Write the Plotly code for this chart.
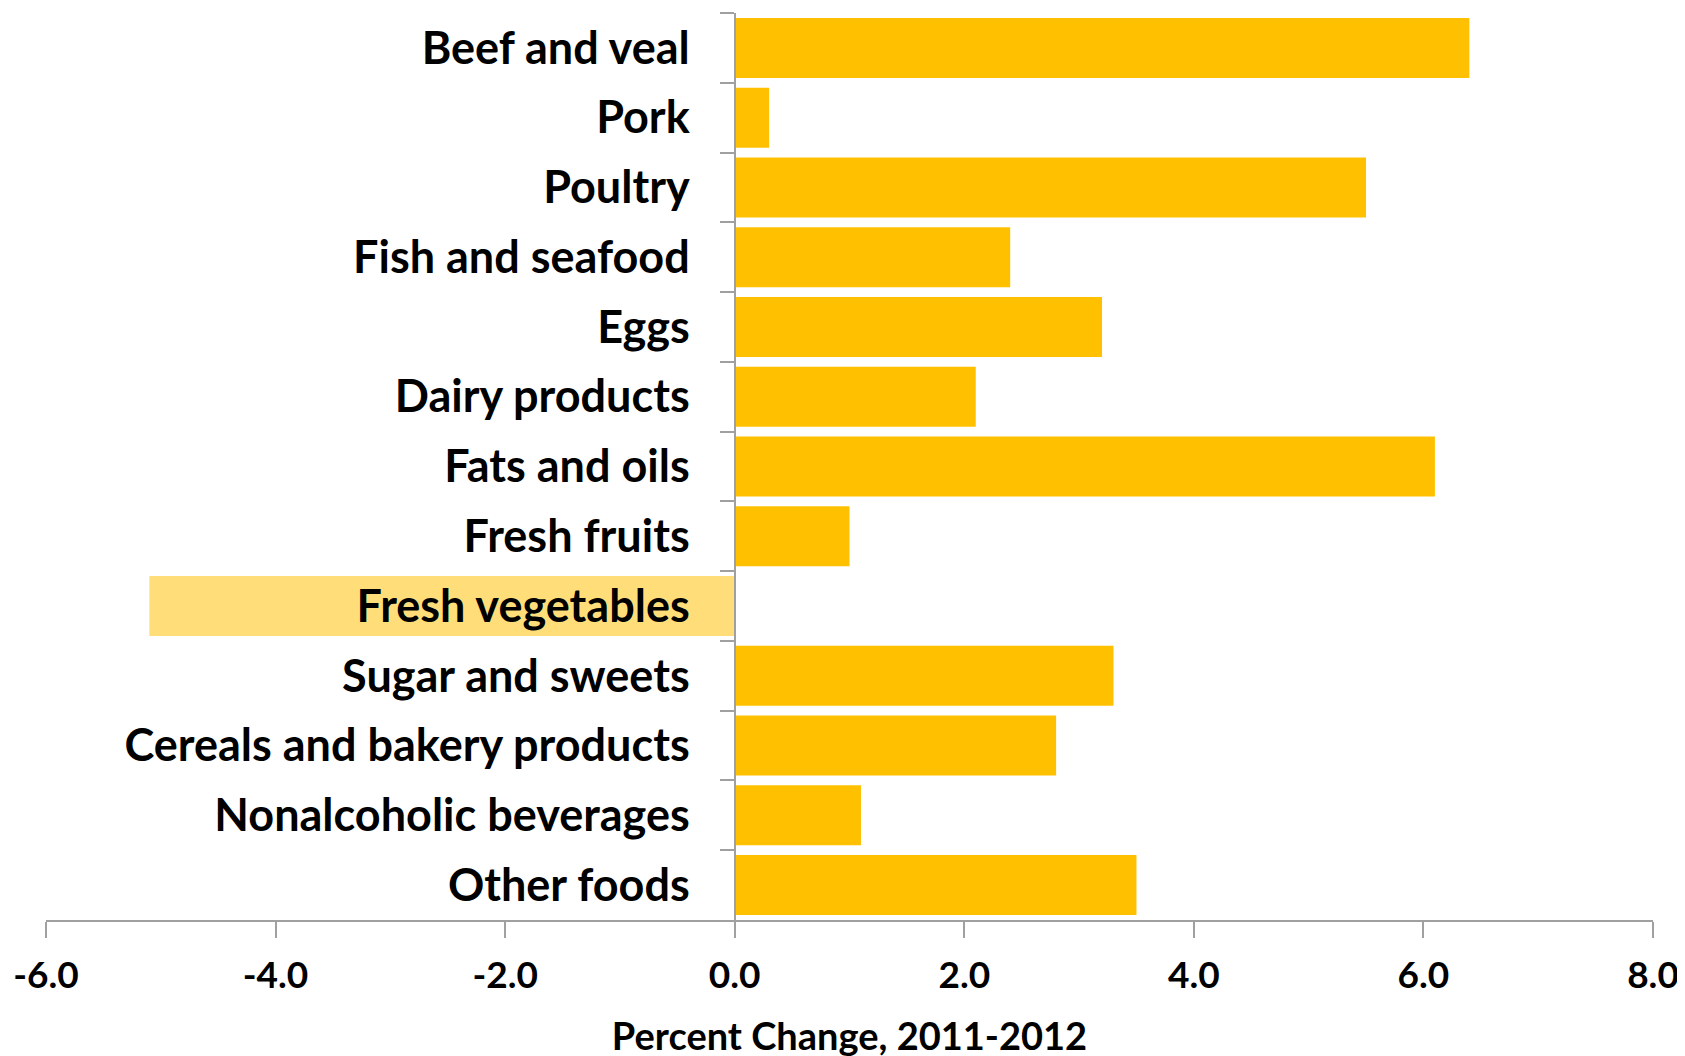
import plotly.graph_objects as go

categories = ["Beef and veal", "Pork", "Poultry", "Fish and seafood", "Eggs",
              "Dairy products", "Fats and oils", "Fresh fruits", "Fresh vegetables",
              "Sugar and sweets", "Cereals and bakery products",
              "Nonalcoholic beverages", "Other foods"]
values = [6.4, 0.3, 5.5, 2.4, 3.2, 2.1, 6.1, 1.0, 0.0, 3.3, 2.8, 1.1, 3.5]
x_ticks = [-6, -4, -2, 0, 2, 4, 6, 8]
x_tick_labels = ["-6.0", "-4.0", "-2.0", "0.0", "2.0", "4.0", "6.0", "8.0"]
highlight_category = "Fresh vegetables"

FONT = "Lato"
BAR_COLOR = "#FFC000"
HL_COLOR = "#FFDE7A"
AXIS_COLOR = "#A0A0A0"
X_MIN, X_MAX = -6, 8
HL_X0 = -5.1

fig = go.Figure()
fig.add_trace(go.Bar(
    y=categories, x=values, orientation="h",
    marker=dict(color=BAR_COLOR, line=dict(width=0)),
    width=0.86,
))

hl_idx = categories.index(highlight_category)
fig.add_shape(type="rect", xref="x", yref="y",
              x0=HL_X0, x1=0, y0=hl_idx - 0.43, y1=hl_idx + 0.43,
              fillcolor=HL_COLOR, line=dict(width=0), layer="below")

fig.update_layout(
    width=1685, height=1056,
    margin=dict(l=35, r=40, t=5, b=144),
    plot_bgcolor="white", paper_bgcolor="white",
    showlegend=False,
    font=dict(family=FONT, color="black", size=40),
    xaxis=dict(
        range=[X_MIN, X_MAX], tickvals=x_ticks, ticktext=x_tick_labels,
        showgrid=False, zeroline=False,
        showline=True, linecolor=AXIS_COLOR, linewidth=2,
        ticks="outside", ticklen=16, tickwidth=2, tickcolor=AXIS_COLOR,
        tickfont=dict(family=FONT, size=37, color="black", weight="bold"),
        ticklabelstandoff=6,
        title=dict(text="<b>Percent Change, 2011-2012</b>",
                   font=dict(family=FONT, size=38, color="black"), standoff=28),
    ),
    yaxis=dict(
        categoryorder="array", categoryarray=categories, autorange="reversed",
        anchor="free", position=(0 - X_MIN) / (X_MAX - X_MIN),
        showgrid=False, zeroline=False,
        showline=True, linecolor=AXIS_COLOR, linewidth=2,
        ticks="outside", tickson="boundaries", ticklen=14, tickwidth=2,
        tickcolor=AXIS_COLOR,
        tickfont=dict(family=FONT, size=45, color="black", weight="bold"),
        ticklabelstandoff=35,
    ),
)

fig.write_html("out.html")
